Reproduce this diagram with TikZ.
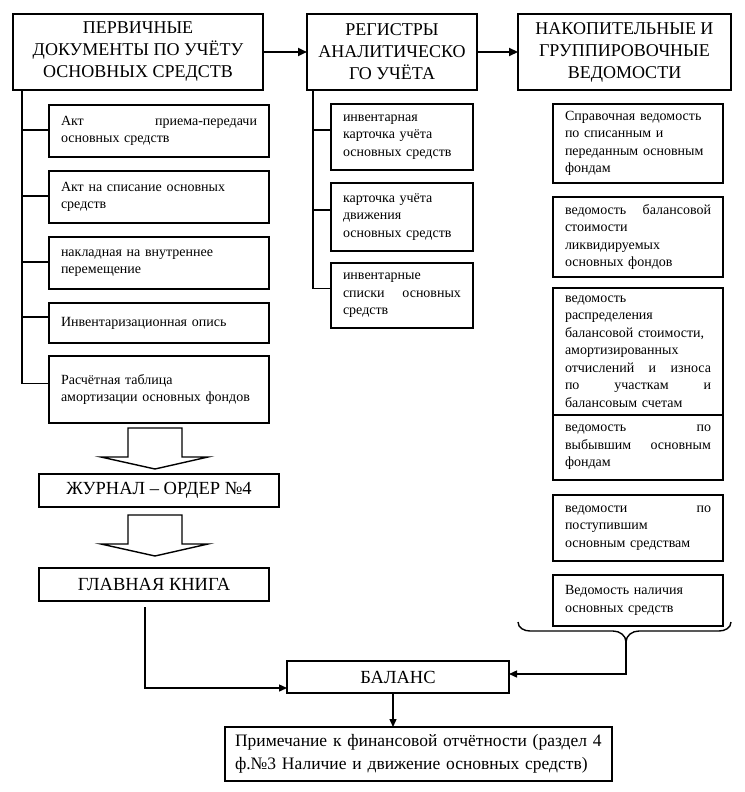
\documentclass[tikz,border=0pt]{standalone}
\usepackage{fontspec}
\setmainfont{Liberation Serif}
\usetikzlibrary{arrows.meta}

\begin{document}
\begin{tikzpicture}[x=1pt,y=-1pt,
  box/.style={draw,line width=1.4pt,inner sep=0pt,outer sep=0pt},
  headbox/.style={box,align=center,minimum height=76pt,font=\fontsize{18}{22}\selectfont},
  docbox/.style={box,text width=196pt,inner xsep=12pt,align=left,font=\fontsize{14}{17.5}\selectfont},
  regbox/.style={box,text width=118pt,inner xsep=12pt,align=left,font=\fontsize{14}{17.5}\selectfont},
  vedbox/.style={box,text width=146pt,inner xsep=12pt,align=left,font=\fontsize{14}{17.5}\selectfont},
  mainbox/.style={box,align=center,font=\fontsize{18.5}{22}\selectfont},
  notebox/.style={box,text width=367pt,inner xsep=10pt,align=left,font=\fontsize{17.5}{23.5}\selectfont},
  line/.style={line width=1.4pt},
  bigarrow/.style={line width=2.6pt,-{Triangle[length=9pt,width=8pt]}},
  arrow/.style={line width=1.4pt,-{Triangle[length=8pt,width=7pt]}}]
\useasboundingbox (0,0) rectangle (744,792);

\node[headbox,minimum width=250pt] (perv) at (138,52) {ПЕРВИЧНЫЕ\\ДОКУМЕНТЫ ПО УЧЁТУ\\ОСНОВНЫХ СРЕДСТВ};
\node[headbox,minimum width=170pt] (reg) at (392,52) {РЕГИСТРЫ\\АНАЛИТИЧЕСКО\\ГО УЧЁТА};
\node[headbox,minimum width=213pt] (nakop) at (624.5,52) {НАКОПИТЕЛЬНЫЕ И\\ГРУППИРОВОЧНЫЕ\\ВЕДОМОСТИ};
\draw[bigarrow] (perv.east) -- (reg.west);
\draw[bigarrow] (reg.east) -- (nakop.west);

\node[docbox,minimum height=52pt] (doc1) at (159,131) {Акт\hfill приема-передачи\\основных средств};
\node[docbox,minimum height=52pt] (doc2) at (159,197) {Акт на списание основных\\средств};
\node[docbox,minimum height=52pt] (doc3) at (159,263) {накладная на внутреннее\\перемещение};
\node[docbox,minimum height=40pt] (doc4) at (159,323) {Инвентаризационная опись};
\node[docbox,minimum height=67pt] (doc5) at (159,389.5) {Расчётная таблица\\амортизации основных фондов\\[6pt]};

\coordinate (lt) at ([xshift=9pt]perv.south west);
\draw[line] (lt) |- ([yshift=6pt]doc5.west);
\foreach \i/\s in {1/1,2/1,3/1,4/6}
{
\draw[line] ([yshift=\s pt]doc\i.west) -- ([yshift=\s pt]doc\i.west -| lt);
}

\node[regbox,minimum height=66pt] (reg1) at (402,137) {инвентарная\\карточка учёта\\основных средств};
\node[regbox,minimum height=68pt] (reg2) at (402,217) {карточка учёта\\движения\\основных средств};
\node[regbox,minimum height=65pt] (reg3) at (402,295.5) {инвентарные\\списки\hfill основных\\средств};

\coordinate (mt) at ([xshift=6pt]reg.south west);
\draw[line] (mt) |- ([yshift=7pt]reg3.west);
\foreach \i in {1,2}
{
\draw[line] ([yshift=7pt]reg\i.west) -- ([yshift=7pt]reg\i.west -| mt);
}

\node[vedbox,minimum height=79pt] (ved1) at (638,143.5) {Справочная ведомость\\по списанным и\\переданным основным\\фондам};
\node[vedbox,minimum height=80pt] (ved2) at (638,237) {ведомость\hfill балансовой\\стоимости\\ликвидируемых\\основных фондов};
\node[vedbox,minimum height=127pt] (ved3) at (638,351.5) {ведомость\\распределения\\балансовой стоимости,\\амортизированных\\отчислений\hfill и\hfill износа\\по\hfill участкам\hfill и\\балансовым счетам};
\node[vedbox,minimum height=65pt] (ved4) at (638,447.5) {ведомость\hfill по\\выбывшим\hfill основным\\фондам};
\node[vedbox,minimum height=66pt] (ved5) at (638,528) {ведомости\hfill по\\поступившим\\основным средствам};
\node[vedbox,minimum height=51pt] (ved6) at (638,600.5) {Ведомость наличия\\основных средств};

\node[mainbox,minimum width=240pt,minimum height=33pt] (zhurnal) at (159,490.5) {ЖУРНАЛ – ОРДЕР №4};
\node[mainbox,minimum width=230pt,minimum height=33pt] (kniga) at (154,584.5) {ГЛАВНАЯ КНИГА};
\node[mainbox,minimum width=222pt,minimum height=32pt] (balans) at (398,677) {БАЛАНС};
\node[notebox,minimum height=54pt] (prim) at (418.5,754) {Примечание к финансовой отчётности (раздел 4\\ф.№3 Наличие и движение основных средств)};

\foreach \t in {428,515}
{
\draw[line] (128,\t) -- (182,\t) -- (182,\t+29) -- (208,\t+29) -- (155,\t+41) -- (101,\t+29) -- (128,\t+29) -- cycle;
}

\coordinate (bt) at (626,642);
\draw[line] (518,622) to[out=-90,in=180] (530,631) -- (613,631) to[out=0,in=90] (bt)
  to[out=90,in=180] (639,631) -- (719,631) to[out=0,in=-90] (731,622);

\coordinate (kb) at ([xshift=-9pt,yshift=-6pt]kniga.south);
\draw[arrow] (kb) |- ([yshift=-11pt]balans.west);
\draw[arrow] (bt) |- ([yshift=3pt]balans.east);
\draw[arrow] ([xshift=-5pt]balans.south) -- ([xshift=-5pt]balans.south |- prim.north);

\end{tikzpicture}
\end{document}
